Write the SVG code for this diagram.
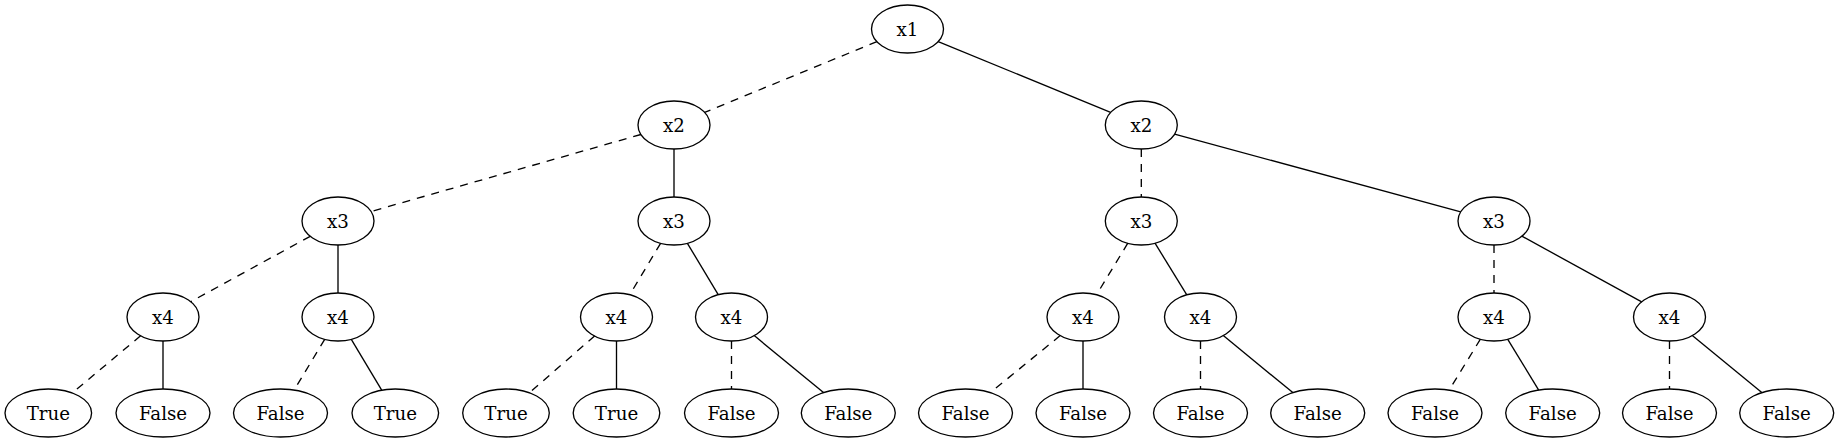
<svg xmlns="http://www.w3.org/2000/svg" width="1839" height="443" viewBox="0 0 1839 443">
<style>
.n ellipse{fill:none;stroke:#000;stroke-width:1.33}
.n text{font-family:"DejaVu Serif","Liberation Serif",serif;font-size:18.2px;text-anchor:middle;fill:#000}
#edges line{stroke:#000;stroke-width:1.33;fill:none}
#edges line.d{stroke-dasharray:8,7}
</style>
<rect width="1839" height="443" fill="#fff"/>
<g id="edges">
<line class="d" x1="876.9" y1="41.6" x2="704.6" y2="112.4"/>
<line x1="938.2" y1="41.6" x2="1110.6" y2="112.4"/>
<line class="d" x1="640.9" y1="134.5" x2="371.1" y2="211.5"/>
<line x1="674" y1="149" x2="674" y2="197"/>
<line class="d" x1="1141.3" y1="149" x2="1141.3" y2="197"/>
<line x1="1174.6" y1="134.1" x2="1460.7" y2="211.9"/>
<line class="d" x1="310.2" y1="236.3" x2="190.8" y2="301.7"/>
<line x1="338" y1="245" x2="338" y2="293"/>
<line class="d" x1="660.6" y1="243.3" x2="629.8" y2="294.7"/>
<line x1="687.4" y1="243.3" x2="718.2" y2="294.7"/>
<line class="d" x1="1127.8" y1="243.2" x2="1096.5" y2="294.8"/>
<line x1="1155" y1="243.2" x2="1186.8" y2="294.8"/>
<line class="d" x1="1494" y1="245" x2="1494" y2="293"/>
<line x1="1521.9" y1="236.2" x2="1641.7" y2="301.8"/>
<line class="d" x1="140.6" y1="335.8" x2="72.2" y2="393"/>
<line x1="163" y1="341" x2="163" y2="389"/>
<line class="d" x1="324.7" y1="339.3" x2="294.2" y2="390"/>
<line x1="351.3" y1="339.3" x2="381.7" y2="390.2"/>
<line class="d" x1="594.6" y1="336" x2="529.3" y2="392.8"/>
<line x1="616.5" y1="341" x2="616.5" y2="389"/>
<line class="d" x1="731.5" y1="341" x2="731.5" y2="389"/>
<line x1="754.2" y1="335.6" x2="823.5" y2="392.6"/>
<line class="d" x1="1060.2" y1="335.6" x2="990.4" y2="392.6"/>
<line x1="1083" y1="341" x2="1083" y2="389"/>
<line class="d" x1="1200.5" y1="341" x2="1200.5" y2="389"/>
<line x1="1223.3" y1="335.6" x2="1292.8" y2="392.6"/>
<line class="d" x1="1480.4" y1="339.2" x2="1449.1" y2="390.1"/>
<line x1="1507.6" y1="339.2" x2="1538.7" y2="390.1"/>
<line class="d" x1="1669.5" y1="341" x2="1669.5" y2="389"/>
<line x1="1692.3" y1="335.6" x2="1761.8" y2="392.6"/>
</g>
<g id="n_x1" class="n"><ellipse cx="907.5" cy="29" rx="36" ry="24"/><text x="907.5" y="35.5">x1</text></g>
<g id="n_x2a" class="n"><ellipse cx="674" cy="125" rx="36" ry="24"/><text x="674" y="131.5">x2</text></g>
<g id="n_x2b" class="n"><ellipse cx="1141.3" cy="125" rx="36" ry="24"/><text x="1141.3" y="131.5">x2</text></g>
<g id="n_x3a" class="n"><ellipse cx="338" cy="221" rx="36" ry="24"/><text x="338" y="227.5">x3</text></g>
<g id="n_x3b" class="n"><ellipse cx="674" cy="221" rx="36" ry="24"/><text x="674" y="227.5">x3</text></g>
<g id="n_x3c" class="n"><ellipse cx="1141.3" cy="221" rx="36" ry="24"/><text x="1141.3" y="227.5">x3</text></g>
<g id="n_x3d" class="n"><ellipse cx="1494" cy="221" rx="36" ry="24"/><text x="1494" y="227.5">x3</text></g>
<g id="n_x4a" class="n"><ellipse cx="163" cy="317" rx="36" ry="24"/><text x="163" y="323.5">x4</text></g>
<g id="n_x4b" class="n"><ellipse cx="338" cy="317" rx="36" ry="24"/><text x="338" y="323.5">x4</text></g>
<g id="n_x4c" class="n"><ellipse cx="616.5" cy="317" rx="36" ry="24"/><text x="616.5" y="323.5">x4</text></g>
<g id="n_x4d" class="n"><ellipse cx="731.5" cy="317" rx="36" ry="24"/><text x="731.5" y="323.5">x4</text></g>
<g id="n_x4e" class="n"><ellipse cx="1083" cy="317" rx="36" ry="24"/><text x="1083" y="323.5">x4</text></g>
<g id="n_x4f" class="n"><ellipse cx="1200.5" cy="317" rx="36" ry="24"/><text x="1200.5" y="323.5">x4</text></g>
<g id="n_x4g" class="n"><ellipse cx="1494" cy="317" rx="36" ry="24"/><text x="1494" y="323.5">x4</text></g>
<g id="n_x4h" class="n"><ellipse cx="1669.5" cy="317" rx="36" ry="24"/><text x="1669.5" y="323.5">x4</text></g>
<g id="n_l1" class="n"><ellipse cx="48.3" cy="413" rx="43.3" ry="24"/><text x="48.3" y="419.5">True</text></g>
<g id="n_l2" class="n"><ellipse cx="163" cy="413" rx="47" ry="24"/><text x="163" y="419.5">False</text></g>
<g id="n_l3" class="n"><ellipse cx="280.5" cy="413" rx="47" ry="24"/><text x="280.5" y="419.5">False</text></g>
<g id="n_l4" class="n"><ellipse cx="395.3" cy="413" rx="43.3" ry="24"/><text x="395.3" y="419.5">True</text></g>
<g id="n_l5" class="n"><ellipse cx="506" cy="413" rx="43.3" ry="24"/><text x="506" y="419.5">True</text></g>
<g id="n_l6" class="n"><ellipse cx="616.5" cy="413" rx="43.3" ry="24"/><text x="616.5" y="419.5">True</text></g>
<g id="n_l7" class="n"><ellipse cx="731.5" cy="413" rx="47" ry="24"/><text x="731.5" y="419.5">False</text></g>
<g id="n_l8" class="n"><ellipse cx="848.3" cy="413" rx="47" ry="24"/><text x="848.3" y="419.5">False</text></g>
<g id="n_l9" class="n"><ellipse cx="965.5" cy="413" rx="47" ry="24"/><text x="965.5" y="419.5">False</text></g>
<g id="n_l10" class="n"><ellipse cx="1083" cy="413" rx="47" ry="24"/><text x="1083" y="419.5">False</text></g>
<g id="n_l11" class="n"><ellipse cx="1200.5" cy="413" rx="47" ry="24"/><text x="1200.5" y="419.5">False</text></g>
<g id="n_l12" class="n"><ellipse cx="1317.7" cy="413" rx="47" ry="24"/><text x="1317.7" y="419.5">False</text></g>
<g id="n_l13" class="n"><ellipse cx="1435" cy="413" rx="47" ry="24"/><text x="1435" y="419.5">False</text></g>
<g id="n_l14" class="n"><ellipse cx="1552.7" cy="413" rx="47" ry="24"/><text x="1552.7" y="419.5">False</text></g>
<g id="n_l15" class="n"><ellipse cx="1669.5" cy="413" rx="47" ry="24"/><text x="1669.5" y="419.5">False</text></g>
<g id="n_l16" class="n"><ellipse cx="1786.7" cy="413" rx="47" ry="24"/><text x="1786.7" y="419.5">False</text></g>
</svg>
